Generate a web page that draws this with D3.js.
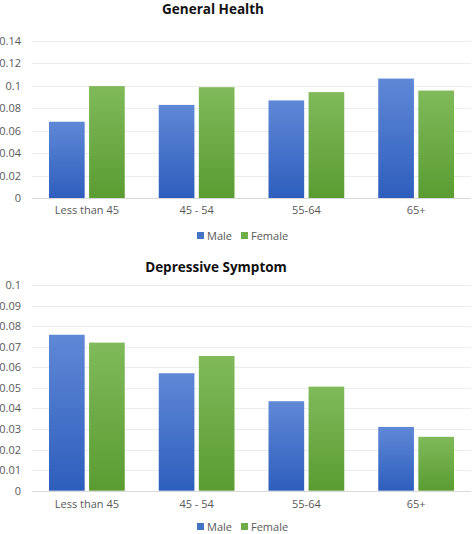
<!DOCTYPE html>
<html>
<head>
<meta charset="utf-8">
<script src="https://cdn.jsdelivr.net/npm/d3@7"></script>
<style>
  html, body { margin: 0; padding: 0; background: #fff; }
  svg { display: block; }
  text { font-family: "Open Sans", "Liberation Sans", sans-serif; }
</style>
</head>
<body>
<svg id="chart" width="472" height="534"></svg>
<script>
const categories = ["Less than 45", "45 - 54", "55-64", "65+"];
const seriesNames = ["Male", "Female"];

const generalTitle = "General Health";
const generalMale = [0.068, 0.083, 0.087, 0.1065];
const generalFemale = [0.0998, 0.0988, 0.0944, 0.0958];
const generalTicks = [0, 0.02, 0.04, 0.06, 0.08, 0.1, 0.12, 0.14];
const generalTickLabels = ["0", "0.02", "0.04", "0.06", "0.08", "0.1", "0.12", "0.14"];

const depTitle = "Depressive Symptom";
const depMale = [0.0758, 0.0571, 0.0435, 0.031];
const depFemale = [0.072, 0.0655, 0.0506, 0.0262];
const depTicks = [0, 0.01, 0.02, 0.03, 0.04, 0.05, 0.06, 0.07, 0.08, 0.09, 0.1];
const depTickLabels = ["0", "0.01", "0.02", "0.03", "0.04", "0.05", "0.06", "0.07", "0.08", "0.09", "0.1"];

const svg = d3.select("#chart");
const defs = svg.append("defs");
const grads = [
  { id: "gMale", top: "#5F88D6", bottom: "#2E5EBD" },
  { id: "gFemale", top: "#80BA5A", bottom: "#5A9C32" }
];
grads.forEach(g => {
  const lg = defs.append("linearGradient").attr("id", g.id)
    .attr("x1", 0).attr("y1", 0).attr("x2", 0).attr("y2", 1);
  lg.append("stop").attr("offset", "0%").attr("stop-color", g.top);
  lg.append("stop").attr("offset", "100%").attr("stop-color", g.bottom);
});
const fills = ["url(#gMale)", "url(#gFemale)"];
const legendColors = ["#4472C4", "#70AD47"];

function drawChart(cfg) {
  const g = svg.append("g");
  const x0 = d3.scaleBand().domain(categories).range([32, 471]).paddingInner(0).paddingOuter(0);
  const x1 = d3.scaleBand().domain(seriesNames).range([17, x0.bandwidth() - 17]).paddingInner(0.11);
  const y = d3.scaleLinear().domain([0, cfg.max]).range([cfg.y0, cfg.yTop]);

  g.append("text").attr("x", cfg.titleX).attr("y", cfg.titleY)
    .attr("text-anchor", "middle").attr("font-size", 13.5).attr("font-weight", "bold")
    .attr("fill", "#111").text(cfg.title);

  // gridlines
  g.selectAll(".grid").data(cfg.ticks).enter().append("line")
    .attr("x1", 32).attr("x2", 471)
    .attr("y1", d => Math.round(y(d)) + 0.5).attr("y2", d => Math.round(y(d)) + 0.5)
    .attr("stroke", d => d === 0 ? "#d9d9d9" : "#ececec").attr("stroke-width", 1);

  // y axis labels
  const yAxis = d3.axisLeft(y).tickValues(cfg.ticks)
    .tickFormat((d, i) => cfg.tickLabels[i]).tickSize(0).tickPadding(0);
  const ya = g.append("g").attr("transform", "translate(21,0)").call(yAxis);
  ya.select(".domain").remove();
  ya.selectAll("text").attr("font-size", 11).attr("fill", "#595959")
    .style("font-family", "'Open Sans', sans-serif");

  // bars
  const data = categories.map((c, i) => ({ c, vals: [cfg.male[i], cfg.female[i]] }));
  const grp = g.selectAll(".grp").data(data).enter().append("g")
    .attr("transform", d => `translate(${x0(d.c)},0)`);
  grp.selectAll("rect").data(d => d.vals.map((v, j) => ({ s: seriesNames[j], v, j })))
    .enter().append("rect")
    .attr("x", d => x1(d.s)).attr("width", x1.bandwidth())
    .attr("y", d => y(d.v)).attr("height", d => y(0) - y(d.v))
    .attr("fill", d => fills[d.j]);

  // x axis labels
  const xAxis = d3.axisBottom(x0).tickSize(0).tickPadding(0);
  const xa = g.append("g").attr("transform", `translate(0,${cfg.xLabelY})`).call(xAxis);
  xa.select(".domain").remove();
  xa.selectAll("text").attr("font-size", 11).attr("fill", "#595959")
    .style("font-family", "'Open Sans', sans-serif");

  // legend
  const lg = g.append("g").attr("transform", `translate(0,${cfg.legendY})`);
  const items = [{ name: "Male", x: 197, tx: 207 }, { name: "Female", x: 241, tx: 251 }];
  items.forEach((it, i) => {
    lg.append("rect").attr("x", it.x).attr("y", -4).attr("width", 7).attr("height", 7)
      .attr("fill", legendColors[i]);
    lg.append("text").attr("x", it.tx).attr("y", 0).attr("dy", "0.35em")
      .attr("font-size", 11).attr("fill", "#595959").text(it.name);
  });
}

drawChart({
  title: generalTitle, titleX: 213, titleY: 14,
  male: generalMale, female: generalFemale,
  ticks: generalTicks, tickLabels: generalTickLabels,
  max: 0.14, y0: 198, yTop: 41,
  xLabelY: 206, legendY: 236
});
drawChart({
  title: depTitle, titleX: 216, titleY: 272,
  male: depMale, female: depFemale,
  ticks: depTicks, tickLabels: depTickLabels,
  max: 0.1, y0: 490.7, yTop: 285,
  xLabelY: 500, legendY: 527
});
</script>
</body>
</html>
